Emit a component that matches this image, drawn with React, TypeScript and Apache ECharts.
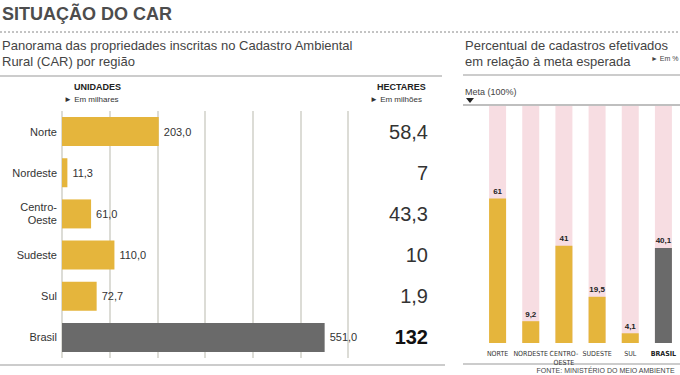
import React, { useEffect, useRef } from "react";
import * as echarts from "echarts";

const regions = ["Norte", "Nordeste", "Centro-Oeste", "Sudeste", "Sul", "Brasil"];
const unitsThousands = [203.0, 11.3, 61.0, 110.0, 72.7, 551.0];
const hectaresMillions = [58.4, 7, 43.3, 10, 1.9, 132];
const pctRegions = ["NORTE", "NORDESTE", "CENTRO-\nOESTE", "SUDESTE", "SUL", "BRASIL"];
const pctValues = [61, 9.2, 41, 19.5, 4.1, 40.1];
const unitTicks = [0, 100, 200, 300, 400, 500, 600];

const YELLOW = "#e5b53c";
const GRAY = "#6a6a6a";
const FONT = "Liberation Sans, Arial, sans-serif";
const NARROW = "Liberation Sans Narrow, DejaVu Sans Condensed, Liberation Sans, sans-serif";

const fmtComma = (v: number, d?: number) =>
  (d === undefined ? String(v) : v.toFixed(d)).replace(".", ",");

export default function App() {
  const ref = useRef<HTMLDivElement>(null);
  useEffect(() => {
    if (!ref.current) return;
    const chart = echarts.init(ref.current, null, { renderer: "svg" });
    const lastIdx = regions.length - 1;
    const option: any = {
      animation: false,
      backgroundColor: "#ffffff",
      textStyle: { fontFamily: FONT },
      grid: [
        { left: 62, top: 111, width: 286, height: 247 },
        { left: 481, top: 106, width: 199, height: 237 },
      ],
      xAxis: [
        {
          gridIndex: 0,
          type: "value",
          min: unitTicks[0],
          max: unitTicks[unitTicks.length - 1],
          interval: unitTicks[1] - unitTicks[0],
          axisLabel: { show: false },
          axisLine: { show: false },
          axisTick: { show: false },
          splitLine: {
            show: true,
            lineStyle: { color: "#dcdcd6", width: 2 },
          },
        },
        {
          gridIndex: 1,
          type: "category",
          data: pctRegions,
          axisLine: { show: false },
          axisTick: { show: false },
          axisLabel: {
            interval: 0,
            fontSize: 7,
            color: "#333",
            margin: 6,
            lineHeight: 9,
            fontFamily: NARROW,
            formatter: (v: string) => (v === "BRASIL" ? "{b|" + v + "}" : v),
            rich: { b: { fontWeight: "bold", fontSize: 7, color: "#222", fontFamily: NARROW } },
          },
        },
      ],
      yAxis: [
        {
          gridIndex: 0,
          type: "category",
          inverse: true,
          data: regions,
          axisLine: { show: false },
          axisTick: { show: false },
          axisLabel: {
            fontSize: 11,
            color: "#333",
            margin: 5,
            lineHeight: 13,
            formatter: (v: string) => (v === "Centro-Oeste" ? "Centro-\nOeste" : v),
          },
        },
        {
          gridIndex: 0,
          type: "category",
          inverse: true,
          position: "right",
          data: hectaresMillions.map((h) => fmtComma(h)),
          axisLine: { show: false },
          axisTick: { show: false },
          axisLabel: {
            align: "right",
            margin: 80,
            fontSize: 20,
            color: "#333",
            formatter: (v: string, i: number) =>
              i === lastIdx ? "{b|" + v + "}" : "{n|" + v + "}",
            rich: {
              n: { fontSize: 20, color: "#333", fontFamily: FONT },
              b: { fontSize: 20, fontWeight: "bold", color: "#111", fontFamily: FONT },
            },
          },
        },
        {
          gridIndex: 1,
          type: "value",
          min: 0,
          max: 100,
          show: false,
        },
      ],
      series: [
        {
          type: "bar",
          xAxisIndex: 0,
          yAxisIndex: 0,
          barWidth: 29,
          data: unitsThousands.map((v, i) => ({
            value: v,
            itemStyle: { color: i === lastIdx ? GRAY : YELLOW },
          })),
          label: {
            show: true,
            position: "right",
            distance: 5,
            fontSize: 11,
            color: "#333",
            formatter: (p: any) => fmtComma(p.value, 1),
          },
        },
        {
          type: "bar",
          xAxisIndex: 1,
          yAxisIndex: 2,
          barWidth: 17,
          showBackground: true,
          backgroundStyle: { color: "#f7dde2" },
          data: pctValues.map((v, i) => ({
            value: v,
            itemStyle: { color: i === lastIdx ? GRAY : YELLOW },
          })),
          label: {
            show: true,
            position: "top",
            distance: 3,
            fontSize: 8,
            fontWeight: "bold",
            color: "#222",
            formatter: (p: any) => fmtComma(p.value),
          },
        },
      ],
      graphic: [
        {
          type: "text",
          left: 2,
          top: 5,
          style: {
            text: "SITUAÇÃO DO CAR",
            font: "bold 18px " + FONT,
            fill: "#4d4d4d",
          },
        },
        {
          type: "line",
          shape: { x1: 0, y1: 32, x2: 680, y2: 32 },
          style: { stroke: "#888", lineWidth: 1, lineDash: [2, 2] },
        },
        {
          type: "text",
          left: 2,
          top: 37,
          style: {
            text: "Panorama das propriedades inscritas no Cadastro Ambiental\nRural (CAR) por região",
            font: "13px " + FONT,
            lineHeight: 16,
            fill: "#444",
          },
        },
        {
          type: "line",
          shape: { x1: 0, y1: 76, x2: 442, y2: 76 },
          style: { stroke: "#999", lineWidth: 1 },
        },
        {
          type: "text",
          left: 74,
          top: 82,
          style: { text: "UNIDADES", font: "bold 9px " + FONT, fill: "#222" },
        },
        {
          type: "text",
          left: 64,
          top: 95,
          style: { text: "► Em milhares", font: "8px " + FONT, fill: "#333" },
        },
        {
          type: "text",
          left: 377,
          top: 82,
          style: { text: "HECTARES", font: "bold 9px " + FONT, fill: "#222" },
        },
        {
          type: "text",
          left: 370,
          top: 95,
          style: { text: "► Em milhões", font: "8px " + FONT, fill: "#333" },
        },
        {
          type: "line",
          shape: { x1: 0, y1: 365, x2: 445, y2: 365 },
          style: { stroke: "#999", lineWidth: 1 },
        },
        {
          type: "text",
          left: 465,
          top: 37,
          style: {
            text: "Percentual de cadastros efetivados\nem relação à meta esperada",
            font: "13px " + FONT,
            lineHeight: 16,
            fill: "#444",
          },
        },
        {
          type: "text",
          left: 651,
          top: 55,
          style: { text: "► Em %", font: "7px " + FONT, fill: "#444" },
        },
        {
          type: "line",
          shape: { x1: 463, y1: 75, x2: 680, y2: 75 },
          style: { stroke: "#999", lineWidth: 1 },
        },
        {
          type: "text",
          left: 465,
          top: 87,
          style: { text: "Meta (100%)", font: "9px " + FONT, fill: "#444" },
        },
        {
          type: "polygon",
          shape: { points: [[466, 98], [474, 98], [470, 103]] },
          style: { fill: "#222" },
        },
        {
          type: "line",
          shape: { x1: 463, y1: 105, x2: 680, y2: 105 },
          style: { stroke: "#aaa", lineWidth: 1.5 },
        },
        {
          type: "line",
          shape: { x1: 463, y1: 364, x2: 680, y2: 364 },
          style: { stroke: "#999", lineWidth: 1 },
        },
        {
          type: "text",
          right: 5,
          top: 367,
          style: { text: "FONTE: MINISTÉRIO DO MEIO AMBIENTE", font: "7px " + FONT, fill: "#444" },
        },
      ],
    };
    chart.setOption(option);
    return () => chart.dispose();
  }, []);
  return (
    <div
      ref={ref}
      style={{ position: "fixed", left: 0, top: 0, width: 680, height: 375 }}
    />
  );
}
